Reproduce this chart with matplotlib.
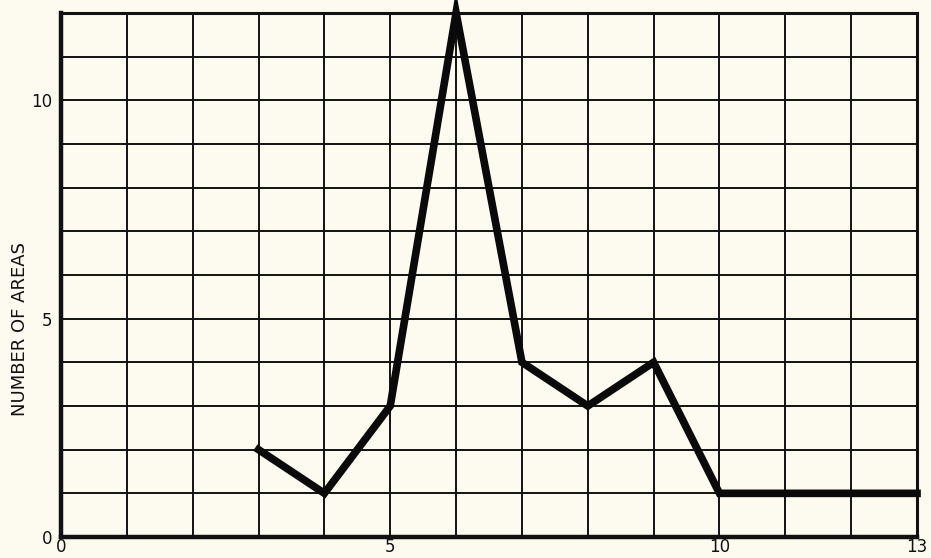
import matplotlib
matplotlib.use("Agg")
import matplotlib.pyplot as plt

x_vals = [3, 4, 5, 6, 7, 8, 9, 10, 11, 12, 13]
y_vals = [2, 1, 3, 12, 4, 3, 4, 1, 1, 1, 1]
x_ticks = [0, 5, 10, 13]
y_ticks = [0, 5, 10]

bg = "#fdfbef"
fig = plt.figure(figsize=(9.31, 5.58), dpi=100, facecolor=bg)
ax = fig.add_axes([0.0655, 0.0376, 0.9195, 0.9394], facecolor=bg)

ax.set_xlim(0, 13)
ax.set_ylim(0, 12)
for gx in range(1, 13):
    ax.axvline(gx, color="#111111", lw=1.4, zorder=1)
for gy in range(1, 12):
    ax.axhline(gy, color="#111111", lw=1.4, zorder=1)

ax.plot(x_vals, y_vals, color="#0a0a0a", lw=5.5, solid_joinstyle="miter", zorder=3, clip_on=False)

for s in ax.spines.values():
    s.set_linewidth(2.2)
    s.set_color("#111111")
ax.spines["left"].set_linewidth(3.2)
ax.spines["bottom"].set_linewidth(3.2)

ax.set_xticks(x_ticks)
ax.set_yticks(y_ticks)
ax.tick_params(length=0, labelsize=12, colors="#111111")
ax.tick_params(axis="x", pad=1)
ax.tick_params(axis="y", pad=6)

fig.text(0.022, 0.41, "NUMBER OF AREAS", rotation=90, ha="center", va="center",
         fontsize=13, color="#111111")

fig.savefig("out.png", dpi=100, facecolor=bg)
